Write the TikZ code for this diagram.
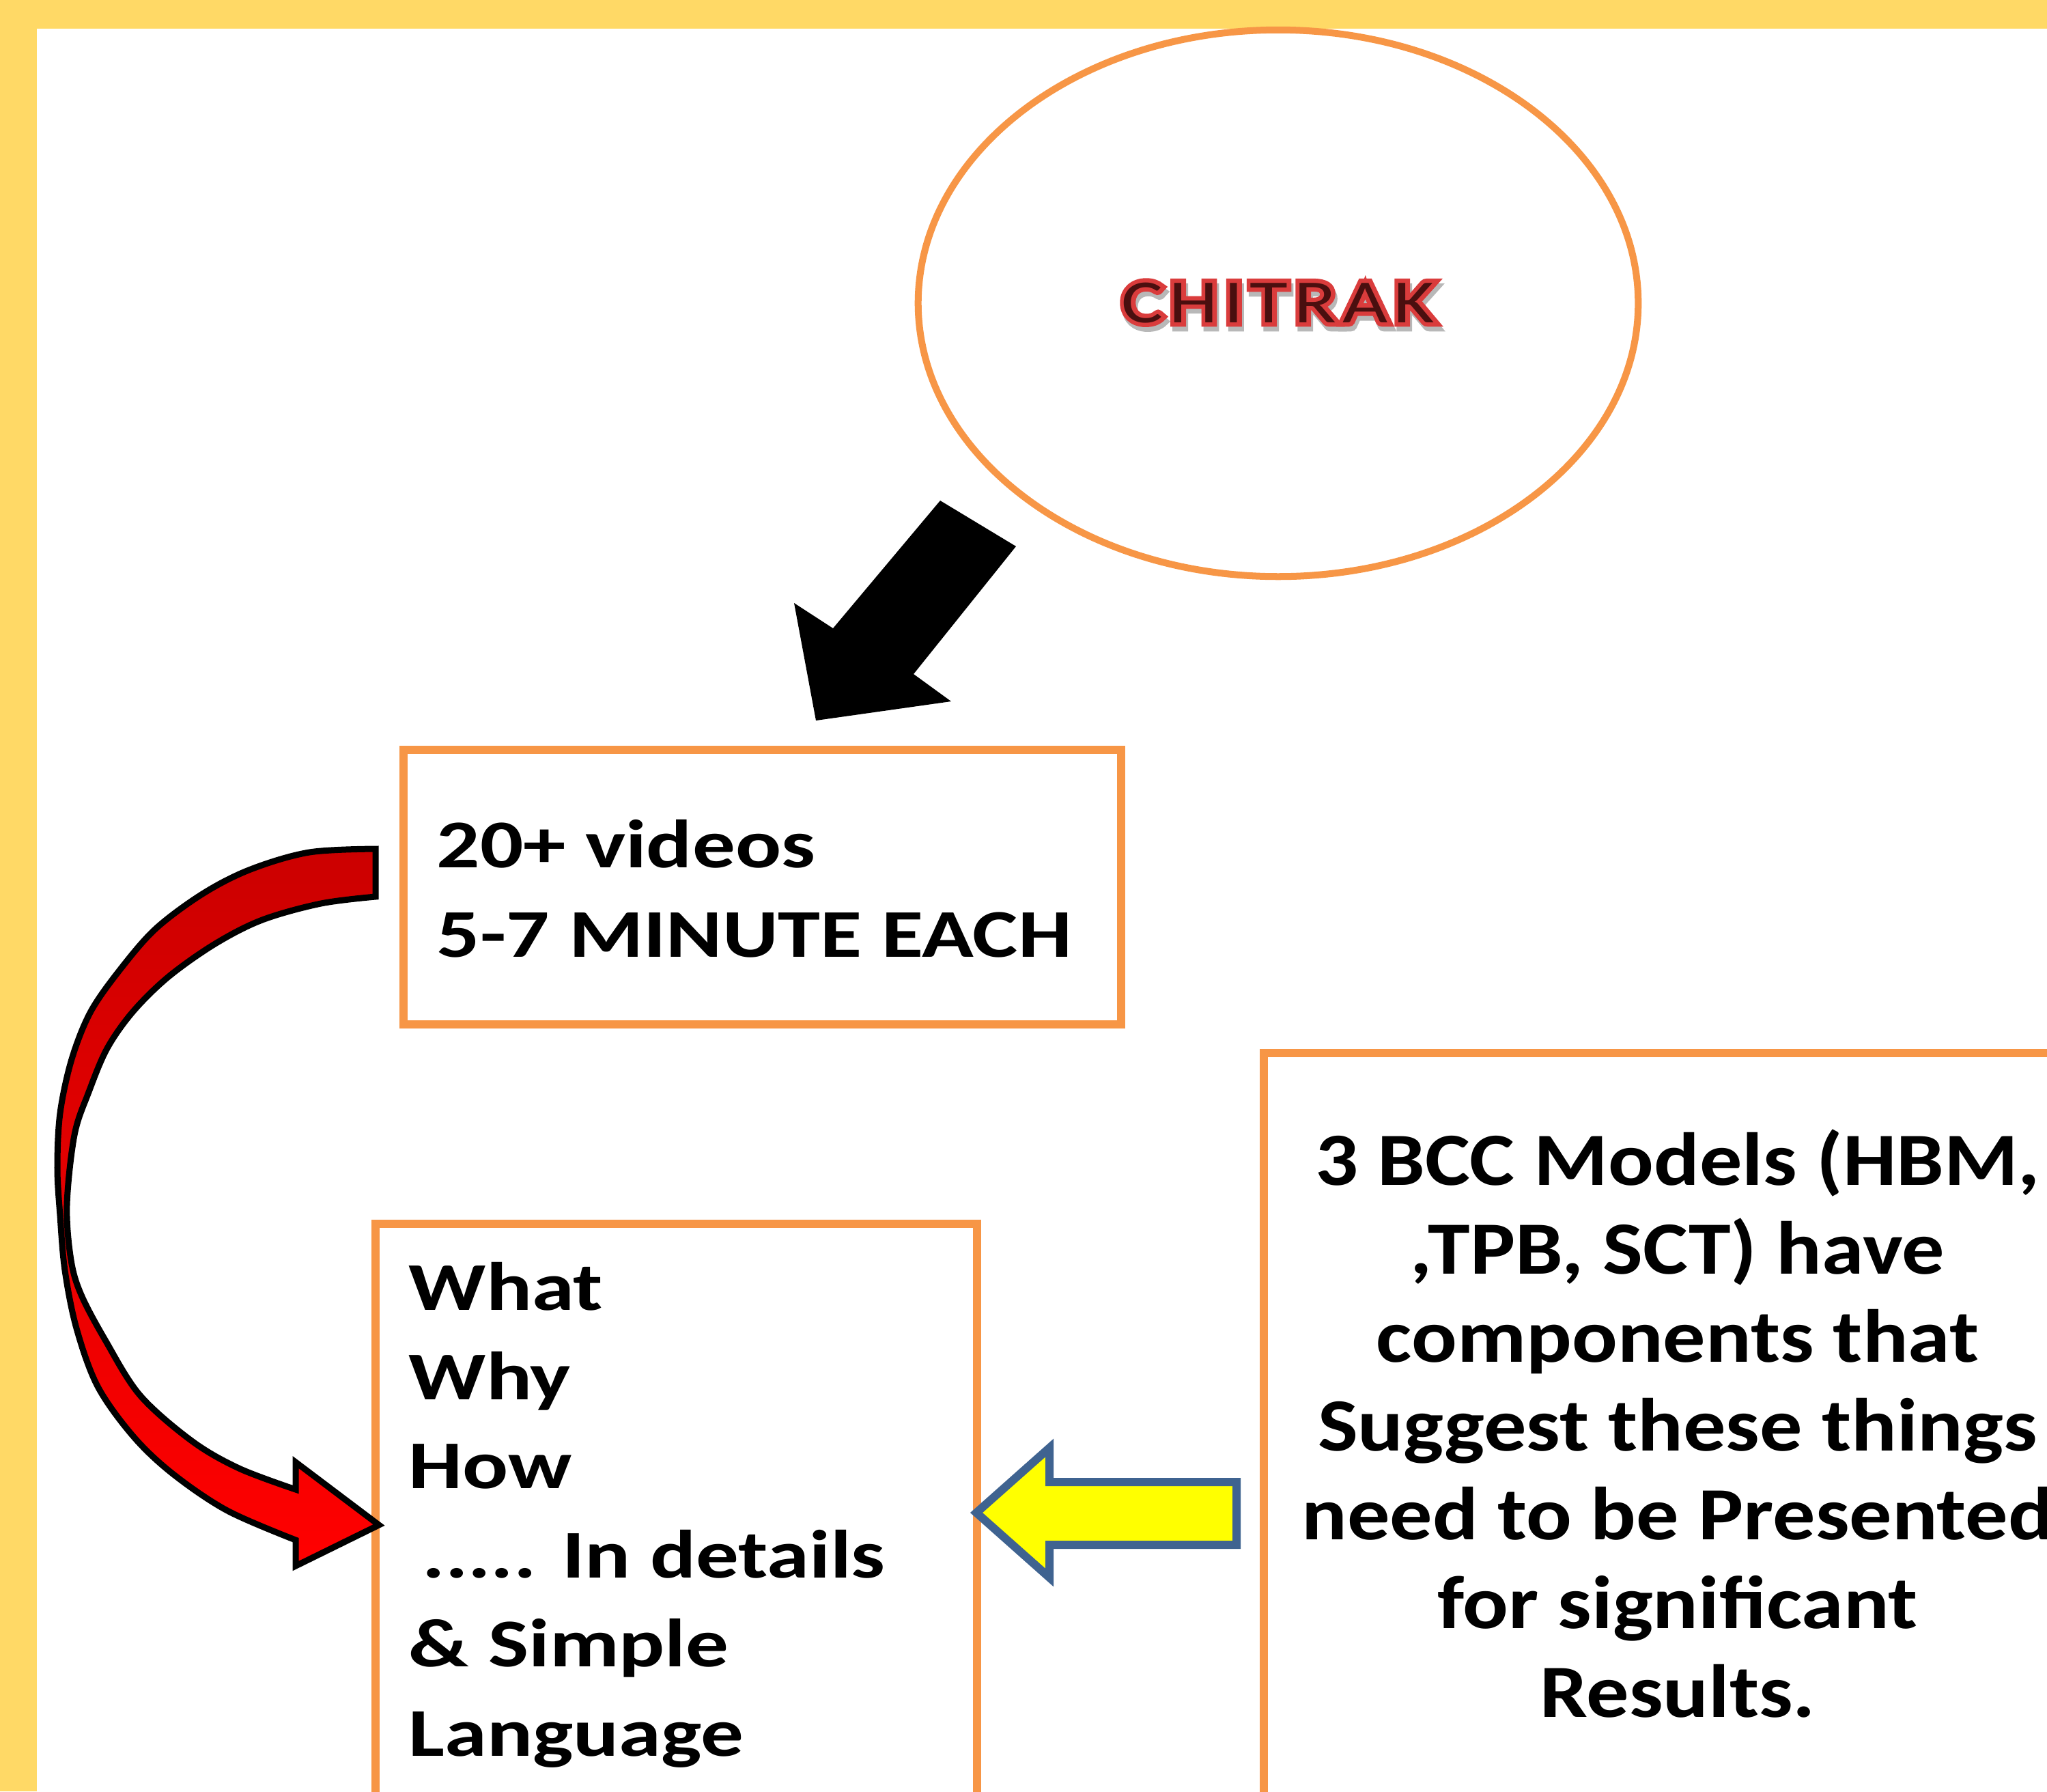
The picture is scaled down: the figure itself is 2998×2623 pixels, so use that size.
\documentclass[tikz,border=0pt]{standalone}
\usepackage{fontspec}
\usetikzlibrary{shapes.geometric,calc}
\newfontfamily\boxfont{Carlito}[FakeStretch=1.25]
\newfontfamily\rightfont{Carlito}[FakeStretch=1.13]
\newfontfamily\chitfont{Carlito}[FakeStretch=1.27,LetterSpace=10]
\newfontfamily\chitboldfont{Carlito}[FakeStretch=1.27,LetterSpace=10,FakeBold=14]
\definecolor{bandyellow}{HTML}{FFD966}
\definecolor{boxorange}{HTML}{F79646}
\definecolor{chitred}{HTML}{DA3C3C}
\definecolor{chitcore}{HTML}{4A0F0F}
\definecolor{chitshadow}{HTML}{B8B8B8}
\definecolor{arrowdark}{HTML}{CC0000}
\definecolor{arrowbright}{HTML}{FF0000}
\definecolor{steelblue}{HTML}{3F6390}
\definecolor{arrowyellow}{HTML}{FFFF00}
\begin{document}
\begin{tikzpicture}[x=0.01cm,y=-0.01cm,
  obox/.style={draw=boxorange, line width=0.12cm, rectangle, inner sep=0pt, fill=none},
  boxtext/.style={font=\boxfont\bfseries\fontsize{28.45}{37.1}\selectfont, align=left, inner sep=0pt, anchor=base west},
  righttext/.style={font=\rightfont\bfseries\fontsize{31.3}{36.9}\selectfont, align=center, inner sep=0pt, anchor=base},
  chit/.style={font=\chitfont\fontsize{25.6}{30}\selectfont, inner sep=0pt, anchor=base},
  chitbold/.style={font=\chitboldfont\fontsize{25.6}{30}\selectfont, inner sep=0pt, anchor=base},
  blockarrow/.style={line join=miter, miter limit=10}
]
\useasboundingbox (0,0) rectangle (2998,2623);
\clip (0,0) rectangle (2998,2623);
% background
\fill[bandyellow] (0,0) rectangle (2998,2623);
\fill[white] (54,42) rectangle (2998,2623);

% ellipse
\node[ellipse, draw=boxorange, line width=0.1cm, minimum width=10.54cm, minimum height=8cm, inner sep=0pt] (ell) at (1872,444) {};
\coordinate (chitc) at (1872,472);
\node[chitbold, text=chitshadow] (chshadow) at ($(chitc)+(3,7)$) {CHITRAK};
\node[chitbold, text=chitred] (chred) at (chitc) {CHITRAK};
\node[chit, text=chitcore] (chittext) at (chitc) {CHITRAK};

% boxes
\node[obox, minimum width=10.51cm, minimum height=4.02cm] (box1) at (1116.5,1299) {};
\node[obox, minimum width=8.81cm, minimum height=10cm] (box2) at (990.5,2292) {};
\node[obox, minimum width=14cm, minimum height=14cm] (box3) at (2551,2242) {};

% texts (base anchor = last line)
\node[boxtext] (t1) at (639,1401) {20+ videos\\5-7 MINUTE EACH};
\node[boxtext] (t2) at (598,2571) {What\\Why\\How\\\hspace*{0.2cm}..... In details\\\& Simple\\Language};
\node[righttext] (t3) at (2457,2514) {3 BCC Models (HBM,\\,TPB, SCT) have\\components that\\Suggest these things\\need to be Presented\\for significant\\Results.};

% black block arrow
\fill[black] (1377,733) -- (1488,800) -- (1338,987) -- (1393,1027) -- (1195,1055) -- (1163,883) -- (1220,920) -- cycle;

% yellow block arrow
\filldraw[blockarrow, fill=arrowyellow, draw=steelblue, line width=0.12cm]
  (1430,2215) -- (1537,2120) -- (1537,2170) -- (1811,2170) -- (1811,2262) -- (1537,2262) -- (1537,2310) -- cycle;

% red curved arrow
\filldraw[blockarrow, top color=arrowdark, bottom color=arrowbright, draw=black, line width=0.09cm]
  plot[smooth, tension=0.55] coordinates {(550,1243) (453,1248) (367,1273) (298,1308) (229,1359) (178,1417) (133,1481) (105,1551) (88,1630) (84,1710) (88,1780) (95,1860) (112,1945) (143,2030) (195,2103) (253,2158) (333,2212) (433,2255)}
  -- (433,2293) -- (555,2233) -- (433,2141)
  -- plot[smooth, tension=0.55] coordinates {(433,2181) (350,2150) (281,2110) (205,2043) (154,1962) (119,1896) (104,1845) (98,1765) (109,1662) (130,1599) (157,1535) (195,1481) (247,1430) (315,1382) (384,1347) (470,1323) (550,1313)}
  -- cycle;
\end{tikzpicture}
\end{document}
